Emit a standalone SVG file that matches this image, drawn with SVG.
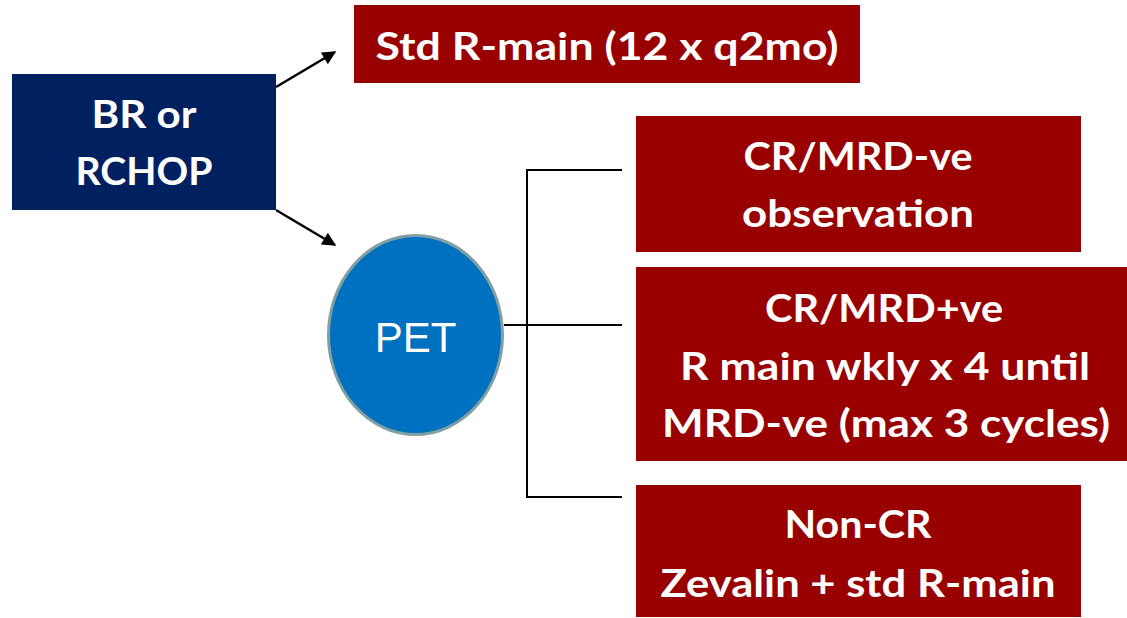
<svg xmlns="http://www.w3.org/2000/svg" width="1127" height="618" viewBox="0 0 1127 618">
<style>
.red{fill:#990000}
.t{font-family:Lato,"Open Sans","Liberation Sans",sans-serif;font-weight:700;font-size:38px;fill:#fff;text-anchor:middle}
.ln{stroke:#000;stroke-width:2;fill:none}
.ar{stroke:#000;stroke-width:2.5;fill:none}
</style>
<defs>
<marker id="ah" viewBox="0 0 10 10" refX="9" refY="5" markerWidth="6.5" markerHeight="5.5" markerUnits="strokeWidth" orient="auto">
<path d="M0,0 L10,5 L0,10 z" fill="#000"/>
</marker>
</defs>
<rect width="1127" height="618" fill="#fff"/>
<g id="connectors">
<line class="ar" x1="276" y1="87" x2="335" y2="52" marker-end="url(#ah)"/>
<line class="ar" x1="276" y1="210" x2="335" y2="245" marker-end="url(#ah)"/>
<path class="ln" d="M622,170 H527 V497 H622"/>
<line class="ln" x1="504" y1="325" x2="622" y2="325"/>
</g>
<g id="br">
<rect x="12" y="74" width="264" height="136" fill="#002060"/>
<text class="t" x="144" y="128" textLength="105" lengthAdjust="spacingAndGlyphs">BR or</text>
<text class="t" x="144" y="185" textLength="137" lengthAdjust="spacingAndGlyphs">RCHOP</text>
</g>
<g id="std">
<rect class="red" x="354" y="5" width="506" height="78"/>
<text class="t" x="607" y="60" textLength="463" lengthAdjust="spacingAndGlyphs">Std R-main (12 x q2mo)</text>
</g>
<g id="pet">
<ellipse cx="415.5" cy="335" rx="87" ry="99.5" fill="#0070c0" stroke="#829fa3" stroke-width="3"/>
<text x="415.5" y="352" font-family="'Liberation Sans',Arial,sans-serif" font-size="42" fill="#fff" text-anchor="middle">PET</text>
</g>
<g id="crneg">
<rect class="red" x="636" y="116" width="445" height="136"/>
<text class="t" x="858" y="170" textLength="229" lengthAdjust="spacingAndGlyphs">CR/MRD-ve</text>
<text class="t" x="858" y="227" textLength="232" lengthAdjust="spacingAndGlyphs">observation</text>
</g>
<g id="crpos">
<rect class="red" x="636" y="267" width="491" height="194"/>
<text class="t" x="884" y="322" textLength="238" lengthAdjust="spacingAndGlyphs">CR/MRD+ve</text>
<text class="t" x="885" y="380" textLength="410" lengthAdjust="spacingAndGlyphs">R main wkly x 4 until</text>
<text class="t" x="886" y="437" textLength="448" lengthAdjust="spacingAndGlyphs">MRD-ve (max 3 cycles)</text>
</g>
<g id="noncr">
<rect class="red" x="636" y="485" width="445" height="132"/>
<text class="t" x="858" y="538" textLength="147" lengthAdjust="spacingAndGlyphs">Non-CR</text>
<text class="t" x="858" y="597" textLength="395" lengthAdjust="spacingAndGlyphs">Zevalin + std R-main</text>
</g>
</svg>
